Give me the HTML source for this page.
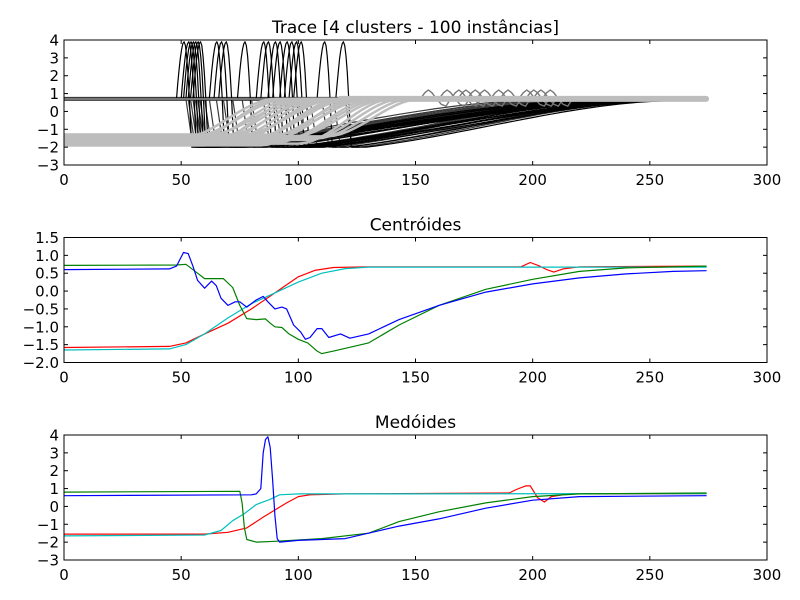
<!DOCTYPE html>
<html><head><meta charset="utf-8"><style>
body{margin:0;background:#fff;}
svg{display:block;font-family:"DejaVu Sans","Liberation Sans",sans-serif;}
</style></head><body>
<svg id="fig" width="800" height="600" viewBox="0 0 800 600"></svg>
<script>
// ---- data ----
const xTicks = [0,50,100,150,200,250,300];
const yTicksTrace = [-3,-2,-1,0,1,2,3,4];
const yTicksCent = [-2.0,-1.5,-1.0,-0.5,0.0,0.5,1.0,1.5];
const yTicksMed = [-3,-2,-1,0,1,2,3,4];
// trace clusters
const spikeStarts = [48,50,51,52,53,54,55,62,64,66,74,82,84,87,89,92,94,96,98,108,116];
const spikeRecEnd = [235,245,225,250,240,230,255,245,235,250,240,255,245,250,260,240,255,250,260,255,260];
const darkDrops = [52,53,54,55,56,57,58,60,62,65,68,72,76,80,85,90,95,100,105,110,115,120];
const darkRecEnd = [200,210,215,220,225,230,235,240,205,215,225,235,245,220,230,240,250,225,235,245,250,255];
const lightRises = [50,52,55,58,60,62,64,66,68,70,72,74,76,78,80,82,84,86,88,90,92,95,98,100,104,108,112];
const lightBase = [-1.5,-1.8,-1.4,-1.6,-1.9,-1.3,-1.5,-1.7,-1.4,-1.6,-1.8,-1.5,-1.3,-1.7,-1.6,-1.4,-1.9,-1.5,-1.6,-1.3,-1.7,-1.5,-1.4,-1.8,-1.6,-1.5,-1.4];
const grayBumps = [152,160,165,168,172,176,182,186,194,197,200,204];
// centroids
const cBlueX=[0,45,48,51,53,55,57,60,63,65,67,70,73,75,78,82,85,87,90,93,95,98,101,103,105,108,110,113,118,122,130,143,160,180,200,220,240,260,274];
const cBlueY=[0.6,0.62,0.7,1.08,1.05,0.7,0.3,0.08,0.28,0.15,-0.2,-0.4,-0.3,-0.3,-0.45,-0.25,-0.15,-0.3,-0.5,-0.45,-0.5,-0.95,-1.15,-1.35,-1.3,-1.05,-1.05,-1.3,-1.2,-1.32,-1.2,-0.8,-0.4,-0.03,0.2,0.37,0.48,0.55,0.57];
const cGreenX=[0,48,52,57,60,68,72,75,78,82,86,88,90,93,96,100,104,108,110,115,130,143,160,180,200,220,240,274];
const cGreenY=[0.72,0.73,0.75,0.5,0.35,0.35,0.1,-0.4,-0.77,-0.8,-0.78,-0.9,-1.0,-1.02,-1.2,-1.35,-1.45,-1.68,-1.75,-1.68,-1.45,-0.95,-0.4,0.05,0.33,0.55,0.65,0.7];
const cRedX=[0,45,52,60,70,80,90,100,107,115,130,195,199,203,206,209,213,220,274];
const cRedY=[-1.58,-1.55,-1.45,-1.2,-0.9,-0.5,-0.05,0.4,0.58,0.66,0.68,0.68,0.8,0.7,0.6,0.53,0.62,0.68,0.7];
const cCyanX=[0,45,52,60,70,80,90,100,110,120,130,274];
const cCyanY=[-1.65,-1.62,-1.5,-1.2,-0.75,-0.35,-0.05,0.25,0.5,0.63,0.67,0.67];
// medoids
const mBlueX=[0,80,82,84,85,86,87,88,89,90,91,92,100,120,143,160,180,200,220,274];
const mBlueY=[0.6,0.65,0.7,1.0,3.0,3.75,3.9,3.3,1.5,-0.5,-1.8,-2.0,-1.9,-1.8,-1.1,-0.7,-0.1,0.35,0.55,0.6];
const mGreenX=[0,75,76,77,78,82,90,110,130,143,160,180,200,220,274];
const mGreenY=[0.8,0.85,0.2,-1.2,-1.85,-2.0,-1.95,-1.8,-1.5,-0.85,-0.3,0.2,0.55,0.7,0.75];
const mRedX=[0,60,70,78,85,90,95,100,105,120,190,193,197,199,202,205,208,215,274];
const mRedY=[-1.55,-1.55,-1.45,-1.2,-0.6,-0.2,0.2,0.55,0.65,0.7,0.75,0.95,1.15,1.15,0.5,0.25,0.55,0.7,0.72];
const mCyanX=[0,60,67,72,77,82,88,92,100,274];
const mCyanY=[-1.65,-1.6,-1.35,-0.8,-0.4,0.1,0.4,0.65,0.7,0.72];

// ---- drawing ----
const NS="http://www.w3.org/2000/svg";
const svg=document.getElementById('fig');
function mk(tag,attrs,parent){const e=document.createElementNS(NS,tag);for(const k in attrs)e.setAttribute(k,attrs[k]);(parent||svg).appendChild(e);return e;}
const L=64,R=767;
function axes(top,bot,ymin,ymax,yticks,fmt,title,name){
  const g=mk('g',{});
  
  
  const sx=v=>L+(v-0)/(300-0)*(R-L);
  const sy=v=>bot-(v-ymin)/(ymax-ymin)*(bot-top);
  const clipId='c'+name;
  const cp=mk('clipPath',{id:clipId},g);mk('rect',{x:L,y:top,width:R-L,height:bot-top},cp);
  const plot=mk('g',{'clip-path':'url(#'+clipId+')'},g);
  return {g,sx,sy,plot,finish(){
    const fr=mk('rect',{x:L,y:top,width:R-L,height:bot-top,fill:'none',stroke:'#000','stroke-width':1},g);
    
    
    xTicks.forEach(t=>{const x=sx(t);
      mk('line',{x1:x,x2:x,y1:bot,y2:bot-4,stroke:'#000'},g);
      mk('line',{x1:x,x2:x,y1:top,y2:top+4,stroke:'#000'},g);
      const tx=mk('text',{x:x,y:bot+20,'font-size':15,'text-anchor':'middle'},g);tx.textContent=t;
      
      });
    yticks.forEach(t=>{const y=sy(t);
      mk('line',{x1:L,x2:L+4,y1:y,y2:y,stroke:'#000'},g);
      mk('line',{x1:R,x2:R-4,y1:y,y2:y,stroke:'#000'},g);
      const tx=mk('text',{x:L-5,y:y+5.5,'font-size':15,'text-anchor':'end'},g);tx.textContent=fmt(t);
      
      });
    const tt=mk('text',{x:(L+R)/2,y:top-7,'font-size':17,'text-anchor':'middle'},g);tt.textContent=title;
    
    
  }};
}
const fmtInt=t=>(t<0?'\u2212':'')+Math.abs(t);
const fmt1=t=>(t<0?'\u2212':'')+Math.abs(t).toFixed(1);
function line(ax,xs,ys,color,w,name){
  const d=xs.map((x,i)=>(i?'L':'M')+ax.sx(x).toFixed(1)+','+ax.sy(ys[i]).toFixed(1)).join('');
  const p=mk('path',{d:d,fill:'none',stroke:color,'stroke-width':w,'stroke-linejoin':'round','stroke-linecap':'round'},ax.plot);
  
  
}
function smooth(t){t=Math.max(0,Math.min(1,t));return t*t*(3-2*t);}

// Plot 1
const a1=axes(40,165,-3,4,yTicksTrace,fmtInt,'Trace [4 clusters - 100 inst\u00e2ncias]','trace-plot');
function recovery(x0,end,xs,ys){for(let x=x0;x<=274;x+=4){const t=(x-x0)/(end-x0);const e=1-Math.pow(1-Math.min(1,t),1.6);xs.push(x);ys.push(-2.0+2.6*Math.min(1,Math.max(0,t<1?smooth(t)*0.5+e*0.5:1)));}}
line(a1,[0,118],[0.7,0.7],'#3a3a3a',4,'trace-dark-band');
darkDrops.forEach((d,i)=>{const xs=[0,d,d+3],ys=[0.7,0.7,-2.0];recovery(d+6,darkRecEnd[i],xs,ys);line(a1,xs,ys,'#3a3a3a',1.2,'trace-dark-gray');});
spikeStarts.forEach((s,i)=>{
  const xs=[0],ys=[0.7];
  for(let k=0;k<=12;k++){const u=k/12;xs.push(s+u*6.5);
    // rounded hump from 0.7 up to ~3.9 and down to -2.0
    const up=Math.sin(Math.PI*Math.min(u/0.62,1)); 
    let y;
    if(u<=0.5){y=0.7+3.2*Math.sin(Math.PI*u);} else {y=(-2.0)+(3.9+2.0)*Math.max(0,Math.sin(Math.PI*(u-0.5)+Math.PI/2))*0+0;y= -2.0+5.9*Math.cos(Math.PI/2*(u-0.5)/0.5);}
    ys.push(Math.min(3.9,y));}
  xs.push(s+9);ys.push(-2.0);
  recovery(s+13,spikeRecEnd[i],xs,ys);line(a1,xs,ys,'#000',1.2,'trace-black');});
grayBumps.forEach(b=>{const xs=[0,b,b+2,b+3.5,b+5,b+7,b+9,b+11,b+13,274],ys=[0.7,0.7,1.05,1.2,1.05,0.7,0.4,0.3,0.7,0.7];line(a1,xs,ys,'#777',1.4,'trace-gray');});
line(a1,[0,52],[-1.6,-1.6],'#bdbdbd',9,'trace-light-band');
lightRises.forEach((r,i)=>{const xs=[0],ys=[lightBase[i]];for(let x=r;x<=r+40;x+=3){xs.push(x);ys.push(lightBase[i]+(0.7-lightBase[i])*smooth((x-r)/40));}xs.push(274);ys.push(0.7);line(a1,xs,ys,'#bdbdbd',2.5,'trace-light-gray');});
line(a1,[118,274],[0.7,0.7],'#bdbdbd',6,'trace-light-band-right');
a1.finish();

// Plot 2
const a2=axes(237.5,362.5,-2,1.5,yTicksCent,fmt1,'Centr\u00f3ides','centroids-plot');
line(a2,cRedX,cRedY,'#ff0000',1.2,'centroid-red');
line(a2,cCyanX,cCyanY,'#00bfbf',1.2,'centroid-cyan');
line(a2,cGreenX,cGreenY,'#008000',1.2,'centroid-green');
line(a2,cBlueX,cBlueY,'#0000ff',1.2,'centroid-blue');
a2.finish();

// Plot 3
const a3=axes(435,560,-3,4,yTicksMed,fmtInt,'Med\u00f3ides','medoids-plot');
line(a3,mRedX,mRedY,'#ff0000',1.2,'medoid-red');
line(a3,mCyanX,mCyanY,'#00bfbf',1.2,'medoid-cyan');
line(a3,mGreenX,mGreenY,'#008000',1.2,'medoid-green');
line(a3,mBlueX,mBlueY,'#0000ff',1.2,'medoid-blue');
a3.finish();
</script>
</body></html>
